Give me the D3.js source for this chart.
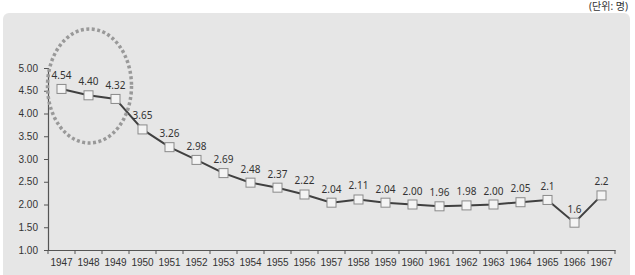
<!DOCTYPE html>
<html>
<head>
<meta charset="utf-8">
<script src="https://cdn.jsdelivr.net/npm/d3@7"></script>
<style>
  body { margin: 0; background: #fff; }
  svg { display: block; font-family: "Noto Sans", "Noto Sans CJK KR", sans-serif; }
</style>
</head>
<body>
<svg id="chart" width="635" height="275"></svg>
<script>
var years = ["1947","1948","1949","1950","1951","1952","1953","1954","1955","1956","1957",
             "1958","1959","1960","1961","1962","1963","1964","1965","1966","1967"];
var values = [4.54, 4.40, 4.32, 3.65, 3.26, 2.98, 2.69, 2.48, 2.37, 2.22, 2.04,
              2.11, 2.04, 2.00, 1.96, 1.98, 2.00, 2.05, 2.1, 1.6, 2.2];
var valueLabels = ["4.54","4.40","4.32","3.65","3.26","2.98","2.69","2.48","2.37","2.22","2.04",
                   "2.11","2.04","2.00","1.96","1.98","2.00","2.05","2.1","1.6","2.2"];
var yTicks = [1.0, 1.5, 2.0, 2.5, 3.0, 3.5, 4.0, 4.5, 5.0];
var unitText = "(단위: 명)";

var svg = d3.select("#chart");

// grey panel behind the chart
svg.append("rect")
    .attr("x", 3).attr("y", 13)
    .attr("width", 627).attr("height", 275)
    .attr("rx", 6)
    .attr("fill", "#e6e6e6");

svg.append("text")
    .attr("x", 628).attr("y", 10)
    .attr("text-anchor", "end")
    .attr("font-size", 10)
    .attr("fill", "#333")
    .text(unitText);

var plotLeft = 48, plotRight = 615, plotTop = 68, plotBottom = 250;

var x = d3.scaleBand().domain(years).range([plotLeft, plotRight]);
var y = d3.scaleLinear().domain([1, 5]).range([plotBottom, plotTop]);

var xAxis = svg.append("g")
    .attr("transform", "translate(0," + plotBottom + ")")
    .call(d3.axisBottom(x).tickSize(0).tickPadding(9));
xAxis.select(".domain").attr("stroke", "#555").attr("stroke-width", 1.2);
xAxis.selectAll("text").attr("font-size", 10).attr("fill", "#333");

// category boundary ticks
svg.append("g").selectAll("line")
    .data(years.concat(["end"]))
    .enter().append("line")
    .attr("x1", function(d, i) { return plotLeft + i * x.step(); })
    .attr("x2", function(d, i) { return plotLeft + i * x.step(); })
    .attr("y1", plotBottom).attr("y2", plotBottom + 4)
    .attr("stroke", "#555");

var yAxis = svg.append("g")
    .attr("transform", "translate(" + plotLeft + ",0)")
    .call(d3.axisLeft(y).tickValues(yTicks).tickFormat(d3.format(".2f")).tickSize(4).tickPadding(6));
yAxis.select(".domain").attr("stroke", "#555").attr("stroke-width", 1.2);
yAxis.selectAll(".tick line").attr("stroke", "#555");
yAxis.selectAll("text").attr("font-size", 10).attr("fill", "#333");

var cx = function(d, i) { return x(years[i]) + x.bandwidth() / 2; };

var line = d3.line()
    .x(function(d, i) { return cx(d, i); })
    .y(function(d) { return y(d); });

svg.append("path")
    .datum(values)
    .attr("d", line)
    .attr("fill", "none")
    .attr("stroke", "#404040")
    .attr("stroke-width", 2);

svg.append("g").selectAll("rect")
    .data(values)
    .enter().append("rect")
    .attr("x", function(d, i) { return cx(d, i) - 4.5; })
    .attr("y", function(d) { return y(d) - 4.5; })
    .attr("width", 9).attr("height", 9)
    .attr("fill", "#f4f4f4")
    .attr("stroke", "#8a8a8a")
    .attr("stroke-width", 1);

svg.append("g").selectAll("text")
    .data(values)
    .enter().append("text")
    .attr("x", function(d, i) { return cx(d, i); })
    .attr("y", function(d) { return y(d) - 10; })
    .attr("text-anchor", "middle")
    .attr("font-size", 10)
    .attr("fill", "#333")
    .text(function(d, i) { return valueLabels[i]; });

// dotted highlight around the first three years
svg.append("ellipse")
    .attr("cx", (x("1947") + x("1949") + x.bandwidth()) / 2 + 1)
    .attr("cy", 86)
    .attr("rx", 42).attr("ry", 57)
    .attr("fill", "none")
    .attr("stroke", "#999")
    .attr("stroke-width", 3.5)
    .attr("stroke-dasharray", "3 2.5");
</script>
</body>
</html>
